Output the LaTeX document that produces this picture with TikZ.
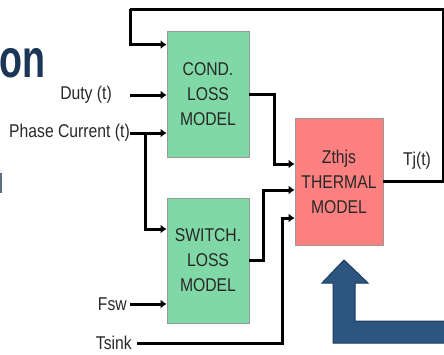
\documentclass[tikz,border=0pt]{standalone}
\usepackage{fontspec}
\setmainfont{Liberation Sans}[FakeStretch=0.85]
\usetikzlibrary{calc,positioning,arrows.meta}
\definecolor{lossgreen}{RGB}{128,216,166}
\definecolor{thermred}{RGB}{255,128,128}
\definecolor{navy}{RGB}{44,85,128}
\definecolor{navyline}{RGB}{30,60,96}
\definecolor{txtgray}{RGB}{40,40,40}

\begin{document}
\begin{tikzpicture}[x=1pt,y=-1pt,
block/.style={draw=black!40,line width=0.8pt,minimum width=82pt,align=center,text=txtgray,font=\fontsize{18.5}{25}\selectfont,inner sep=0pt},
lbl/.style={text=txtgray,font=\fontsize{18.5}{20}\selectfont,inner sep=0pt},
wire/.style={line width=3pt,-{Latex[length=6pt,width=9pt]}},
line/.style={line width=3pt}]

\useasboundingbox (0,0) rectangle (444,354);

% title left over from the slide
\node[font=\fontsize{54}{54}\selectfont\bfseries,text=navyline!90!black,anchor=base west,xscale=0.82,inner sep=0pt] (title) at (-1,77) {on};
\fill[navy!40!gray] (0,173) rectangle (1.5,193);

% blocks
\node[block,fill=lossgreen,minimum height=126pt] (cond) at (208,94) {COND.\\LOSS\\MODEL};
\node[block,fill=lossgreen,minimum height=125pt] (switch) at (208,260.5) {SWITCH.\\LOSS\\MODEL};
\node[block,fill=thermred,minimum width=88pt,minimum height=127pt] (therm) at (339,181.5) {Zthjs\\THERMAL\\MODEL};

% inputs
\coordinate (dutyin) at (130,95);
\coordinate (phasein) at (130,133);
\coordinate (fswin) at (130,304);
\coordinate (sinkin) at (137,343);
\node[lbl,left=18pt of dutyin] (duty) {Duty (t)};
\node[lbl,left=0pt of phasein] (phase) {Phase Current (t)};
\node[lbl,left=3pt of fswin] (fsw) {Fsw};
\node[lbl,left=5pt of sinkin] (tsink) {Tsink};

\draw[wire] (dutyin) -- (dutyin -| cond.west);
\draw[wire] (phase.east) -- (phasein -| cond.west);
\draw[wire] ($(phasein)+(15,0)$) |- ($(switch.west)+(0,-31.5)$);
\draw[wire] (fswin) -- (fswin -| switch.west);
\draw[wire] (sinkin) -| ++(145,0) |- ($(therm.west)+(0,36.5)$);

% losses into the thermal model
\draw[wire] (cond.east) -- ++(25,0) |- ($(therm.west)+(0,-17.5)$);
\draw[wire] (switch.east) -- ++(14,0) |- ($(therm.west)+(0,8.5)$);

% Tj feedback
\coordinate (fbr) at (443,9);
\coordinate (fbl) at (130,9);
\draw[line] (therm.east) -| (fbr) -- (fbl);
\draw[wire] (fbl) |- ($(cond.north west)+(0,14)$);
\node[lbl] (tj) at (417,161) {Tj(t)};

% big arrow
\draw[fill=navy,draw=navyline,line width=1pt,line join=miter]
  (446,321) -- (355,321) -- (355,283) -- (368,283) -- (344,260) -- (322,283)
  -- (333,283) -- (333,343) -- (446,343);

\end{tikzpicture}
\end{document}
